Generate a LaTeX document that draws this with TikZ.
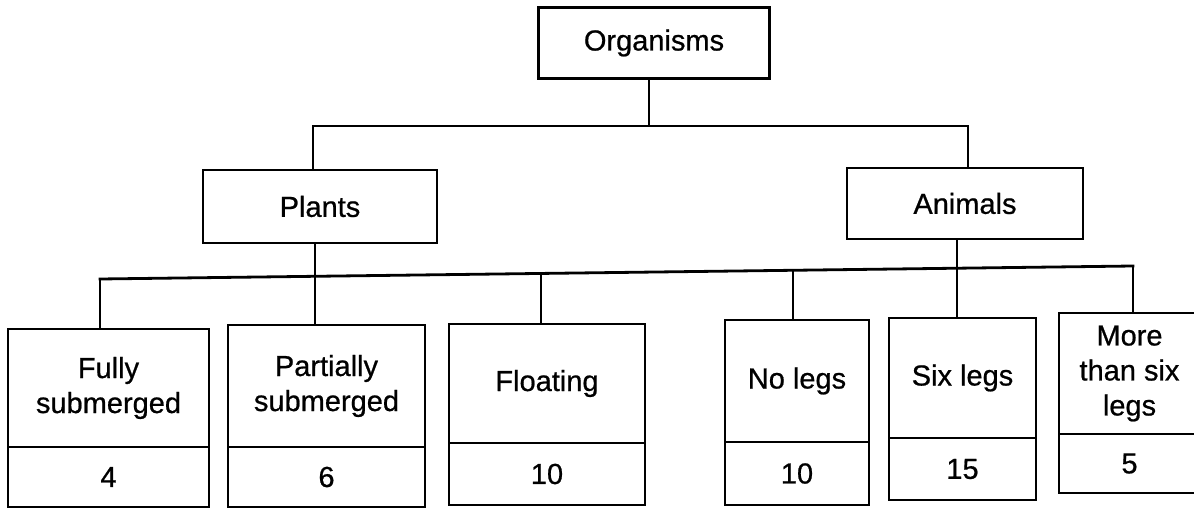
\documentclass[tikz,border=0pt]{standalone}
\usepackage{fontspec}
\setmainfont{Liberation Sans}[UprightFeatures={FakeBold=0.7}]
\begin{document}
\begin{tikzpicture}[x=1pt,y=-1pt,
  box/.style={draw=black, line width=2.8pt, inner sep=0pt, align=center,
    font=\fontsize{29}{35}\selectfont},
  link/.style={draw=black, line width=2.8pt, line cap=rect}]
\useasboundingbox (0,0) rectangle (1194,508);
% top levels
\node[box, minimum width=231pt, minimum height=71pt] (org) at (654,43) {Organisms};
\node[box, minimum width=234pt, minimum height=73pt] (plants) at (320,206.5) {Plants};
\node[box, minimum width=236pt, minimum height=71pt] (animals) at (965,203.5) {Animals};
% bottom boxes (label part and number part)
\node[box, minimum width=201pt, minimum height=118pt] (fs) at (108.5,388) {Fully\\submerged};
\node[box, minimum width=201pt, minimum height=60pt] (fsn) at (108.5,477) {4};
\node[box, minimum width=197pt, minimum height=122pt] (ps) at (326.5,386) {Partially\\submerged};
\node[box, minimum width=197pt, minimum height=60pt] (psn) at (326.5,477) {6};
\node[box, minimum width=196pt, minimum height=119pt] (fl) at (547,383.5) {Floating};
\node[box, minimum width=196pt, minimum height=62pt] (fln) at (547,474) {10};
\node[box, minimum width=144pt, minimum height=122pt] (nl) at (797,381) {No legs};
\node[box, minimum width=144pt, minimum height=63pt] (nln) at (797,473.5) {10};
\node[box, minimum width=147pt, minimum height=120pt] (sl) at (962.5,378) {Six legs};
\node[box, minimum width=147pt, minimum height=62pt] (sln) at (962.5,469) {15};
\node[box, minimum width=141pt, minimum height=121pt] (ml) at (1129.5,373.5) {More\\than six\\legs};
\node[box, minimum width=141pt, minimum height=59pt] (mln) at (1129.5,463.5) {5};
% junction points
\coordinate (t0) at (649,126);
\coordinate (tl) at (313,126);
\coordinate (tr) at (968,126);
\coordinate (b1) at (100,279);
\coordinate (b2) at (315,276.3);
\coordinate (b3) at (541,273.5);
\coordinate (b4) at (793,270.3);
\coordinate (b5) at (957,268.2);
\coordinate (b6) at (1133,266);
% connectors
\draw[link] (org.south -| t0) -- (t0);
\draw[link] (tl) -- (tr);
\draw[link] (tl) -- (plants.north -| tl);
\draw[link] (tr) -- (animals.north -| tr);
\draw[link] (b1) -- (b6);
\draw[link] (plants.south -| b2) -- (b2);
\draw[link] (animals.south -| b5) -- (b5);
\draw[link] (b1) -- (fs.north -| b1);
\draw[link] (b2) -- (ps.north -| b2);
\draw[link] (b3) -- (fl.north -| b3);
\draw[link] (b4) -- (nl.north -| b4);
\draw[link] (b5) -- (sl.north -| b5);
\draw[link] (b6) -- (ml.north -| b6);
\end{tikzpicture}
\end{document}
